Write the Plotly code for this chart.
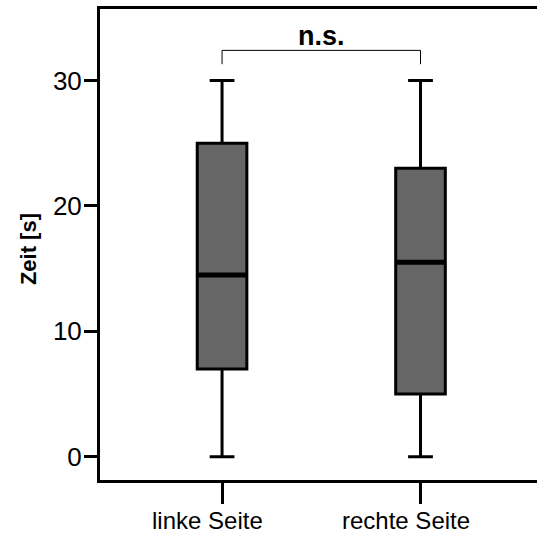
import plotly.graph_objects as go

categories = ["linke Seite", "rechte Seite"]
q1 = [7, 5]
median = [14.5, 15.5]
q3 = [25, 23]
lower = [0, 0]
upper = [30, 30]
y_ticks = [0, 10, 20, 30]
sig_label = "n.s."
sig_y = 32.4
sig_drop = 1.1

box_w = 0.25
xs = list(range(len(categories)))
FONT = "Liberation Sans, Arial"

fig = go.Figure()
for i, name in enumerate(categories):
    fig.add_trace(go.Box(
        x=[xs[i]], q1=[q1[i]], median=[median[i]], q3=[q3[i]],
        lowerfence=[lower[i]], upperfence=[upper[i]],
        width=box_w, whiskerwidth=0.5,
        fillcolor="#666666", line=dict(color="black", width=3),
        boxpoints=False, showlegend=False, hoverinfo="skip",
    ))
    fig.add_trace(go.Scatter(
        x=[xs[i] - box_w / 2, xs[i] + box_w / 2], y=[median[i], median[i]],
        mode="lines", line=dict(color="black", width=5),
        showlegend=False, hoverinfo="skip",
    ))
    fig.add_annotation(x=xs[i], xref="x", y=0, yref="paper", text=name,
                       showarrow=False, xanchor="center", yanchor="top",
                       xshift=-15, yshift=-25,
                       font=dict(size=24, color="black", family=FONT))

# significance bracket
fig.add_trace(go.Scatter(
    x=[xs[0], xs[0], xs[1], xs[1]],
    y=[sig_y - sig_drop, sig_y, sig_y, sig_y - sig_drop],
    mode="lines", line=dict(color="black", width=1),
    showlegend=False, hoverinfo="skip",
))
fig.add_annotation(x=(xs[0] + xs[1]) / 2, y=sig_y, text="<b>" + sig_label + "</b>",
                   showarrow=False, xanchor="center", yanchor="bottom", yshift=-3,
                   font=dict(size=27, color="black", family=FONT))

fig.add_annotation(xref="paper", yref="paper", x=-0.165, y=0.49, text="<b>Zeit [s]</b>",
                   textangle=-90, showarrow=False, xanchor="center", yanchor="middle",
                   font=dict(size=22, color="black", family=FONT))

fig.update_layout(
    width=537, height=535,
    margin=dict(l=100, r=0, t=9, b=55),
    plot_bgcolor="white", paper_bgcolor="white",
    font=dict(family=FONT, color="black", size=25),
    xaxis=dict(
        range=[-0.615, 1.587], tickvals=xs, showticklabels=False,
        showline=True, linecolor="black", linewidth=3, mirror=True,
        ticks="outside", ticklen=21, tickwidth=3, tickcolor="black",
        showgrid=False, zeroline=False,
    ),
    yaxis=dict(
        range=[-1.85, 35.7], tickvals=y_ticks,
        showline=True, linecolor="black", linewidth=3,
        ticks="outside", ticklen=13, tickwidth=3, tickcolor="black",
        showgrid=False, zeroline=False, tickfont=dict(size=26),
        ticklabelstandoff=-3,
    ),
)

fig.write_html("out.html", config={"displayModeBar": False},
               post_script="document.body.style.margin='0';document.body.style.overflow='hidden';")
